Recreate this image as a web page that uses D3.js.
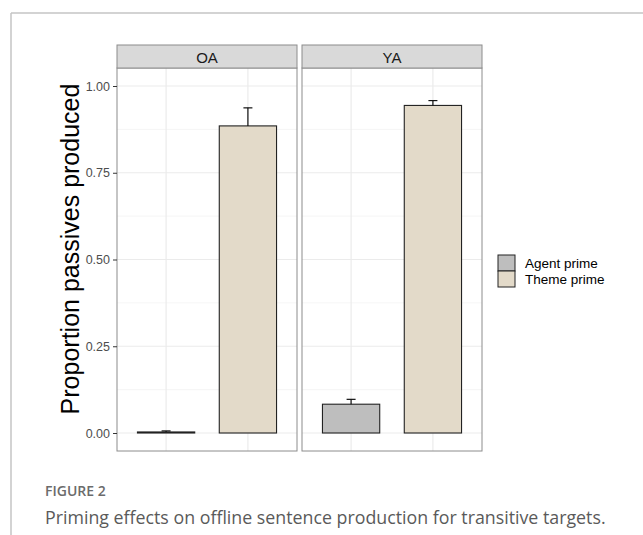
<!DOCTYPE html>
<html>
<head>
<meta charset="utf-8">
<script src="https://cdn.jsdelivr.net/npm/d3@7"></script>
<style>
  html, body { margin: 0; padding: 0; background: #fff; }
  svg { display: block; }
</style>
</head>
<body>
<svg id="chart" width="643" height="535"></svg>
<script>
// Facets (age groups), prime conditions and measured proportions
const groups = ["OA", "YA"];
const primes = ["Agent prime", "Theme prime"];
const means = {
  OA: [0.003, 0.885],
  YA: [0.083, 0.944]
};
const errUpper = {
  OA: [0.006, 0.937],
  YA: [0.097, 0.958]
};
const yTicks = [0, 0.25, 0.5, 0.75, 1.0];
const yMinor = [0.125, 0.375, 0.625, 0.875];
const fills = ["#bebebe", "#e3dac9"];

const svg = d3.select("#chart");
const sans = "Liberation Sans, Arial, Helvetica, sans-serif";

// Outer figure frame (top and left rule)
svg.append("line").attr("x1", 11).attr("x2", 643).attr("y1", 13).attr("y2", 13)
  .attr("stroke", "#c4c4c4").attr("stroke-width", 1.5);
svg.append("line").attr("x1", 11).attr("x2", 11).attr("y1", 13).attr("y2", 535)
  .attr("stroke", "#c4c4c4").attr("stroke-width", 1.5);

const panelTop = 68, panelBottom = 451, stripTop = 45;
const panelW = 180, panelGap = 5, panelLeft0 = 117;

// y maps 0 -> 433, 1 -> 86 inside the panel
const y0px = 433, y1px = 86;
const unit = y0px - y1px;
const y = d3.scaleLinear()
  .domain([(y0px - panelBottom) / unit, (y0px - panelTop) / unit])
  .range([panelBottom, panelTop]);

groups.forEach((g, gi) => {
  const left = panelLeft0 + gi * (panelW + panelGap);
  // discrete axis: categories at positions 1 and 2, limits 0.4..2.6
  const xc = d3.scaleLinear().domain([0.4, 2.6]).range([left, left + panelW]);
  const bw = xc(1.7) - xc(1);

  const p = svg.append("g");
  p.append("rect").attr("x", left).attr("y", panelTop).attr("width", panelW)
    .attr("height", panelBottom - panelTop).attr("fill", "#fff");

  // grid
  p.selectAll(".gmin").data(yMinor).join("line")
    .attr("x1", left).attr("x2", left + panelW)
    .attr("y1", d => y(d)).attr("y2", d => y(d))
    .attr("stroke", "#f2f2f2").attr("stroke-width", 0.8);
  p.selectAll(".gmaj").data(yTicks).join("line")
    .attr("x1", left).attr("x2", left + panelW)
    .attr("y1", d => y(d)).attr("y2", d => y(d))
    .attr("stroke", "#ebebeb").attr("stroke-width", 1.2);
  p.selectAll(".gx").data(primes).join("line")
    .attr("x1", (d, i) => xc(i + 1)).attr("x2", (d, i) => xc(i + 1))
    .attr("y1", panelTop).attr("y2", panelBottom)
    .attr("stroke", "#ebebeb").attr("stroke-width", 1.2);

  // bars
  p.selectAll(".bar").data(means[g]).join("rect")
    .attr("x", (d, i) => xc(i + 1) - bw / 2)
    .attr("y", d => y(d))
    .attr("width", bw)
    .attr("height", d => Math.max(0, y(0) - y(d)))
    .attr("fill", (d, i) => fills[i])
    .attr("stroke", "#222").attr("stroke-width", 1.1);

  // upper error bars
  const cap = 4.5;
  errUpper[g].forEach((e, i) => {
    const cx = xc(i + 1);
    p.append("line").attr("x1", cx).attr("x2", cx)
      .attr("y1", y(means[g][i])).attr("y2", y(e))
      .attr("stroke", "#111").attr("stroke-width", 1.2);
    p.append("line").attr("x1", cx - cap).attr("x2", cx + cap)
      .attr("y1", y(e)).attr("y2", y(e))
      .attr("stroke", "#111").attr("stroke-width", 1.2);
  });

  // panel border
  p.append("rect").attr("x", left).attr("y", panelTop).attr("width", panelW)
    .attr("height", panelBottom - panelTop).attr("fill", "none")
    .attr("stroke", "#8c8c8c").attr("stroke-width", 1);

  // facet strip
  p.append("rect").attr("x", left).attr("y", stripTop).attr("width", panelW)
    .attr("height", panelTop - stripTop).attr("fill", "#d9d9d9")
    .attr("stroke", "#8c8c8c").attr("stroke-width", 1);
  p.append("text").attr("x", left + panelW / 2).attr("y", (stripTop + panelTop) / 2 + 1)
    .attr("text-anchor", "middle").attr("dominant-baseline", "central")
    .attr("font-family", sans).attr("font-size", 15)
    .attr("fill", "#1a1a1a").text(g);
});

// y axis
const yAxis = d3.axisLeft(y).tickValues(yTicks).tickFormat(d3.format(".2f"))
  .tickSize(4).tickPadding(3);
const ya = svg.append("g").attr("transform", `translate(${panelLeft0},0)`).call(yAxis);
ya.select(".domain").remove();
ya.selectAll(".tick line").attr("stroke", "#333");
ya.selectAll(".tick text").attr("fill", "#4d4d4d")
  .attr("font-family", sans).attr("font-size", 12.5);

// y axis title, centred on strip + panel height
svg.append("text")
  .attr("transform", `translate(79,${(stripTop + panelBottom) / 2 + 1}) rotate(-90)`)
  .attr("text-anchor", "middle")
  .attr("font-family", sans).attr("font-size", 25)
  .attr("fill", "#000").text("Proportion passives produced");

// legend
const lg = svg.append("g").attr("transform", "translate(498,255)");
primes.forEach((name, i) => {
  lg.append("rect").attr("x", 0).attr("y", i * 16).attr("width", 17).attr("height", 16)
    .attr("fill", fills[i]).attr("stroke", "#222").attr("stroke-width", 1);
  lg.append("text").attr("x", 27).attr("y", i * 16 + 8)
    .attr("dominant-baseline", "central")
    .attr("font-family", sans).attr("font-size", 13.5)
    .attr("fill", "#000").text(name);
});

// caption
svg.append("text").attr("x", 45).attr("y", 496)
  .attr("font-family", "Open Sans, sans-serif").attr("font-size", 14)
  .attr("font-weight", 600).attr("fill", "#6b6b6b").text("FIGURE 2");
svg.append("text").attr("x", 45).attr("y", 524)
  .attr("font-family", "Open Sans, sans-serif").attr("font-size", 17.8)
  .attr("fill", "#5a5a5a").text("Priming effects on offline sentence production for transitive targets.");
</script>
</body>
</html>
